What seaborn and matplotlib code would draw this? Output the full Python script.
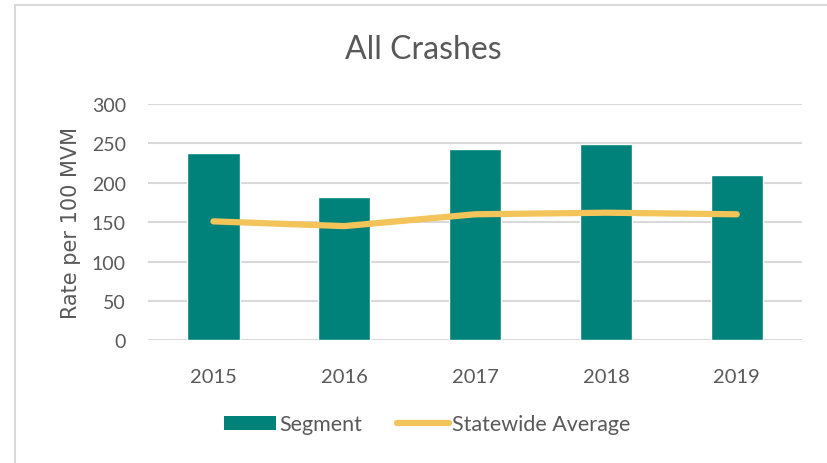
import pandas as pd
import matplotlib.pyplot as plt
import seaborn as sns
from matplotlib.patches import Patch, Rectangle
from matplotlib.lines import Line2D

# values
years = ['2015', '2016', '2017', '2018', '2019']
segment = [238, 182, 243, 249, 210]
statewide = [151, 145, 160, 162, 160]

TEAL = '#00827A'
GOLD = '#F2C45A'
GREY_TEXT = '#595959'
GRID = '#D9D9D9'

df = pd.DataFrame({'year': years, 'segment': segment, 'statewide': statewide})

sns.set_theme(style='white')
plt.rcParams['font.family'] = ['Lato', 'DejaVu Sans']

fig = plt.figure(figsize=(8.27, 4.64), dpi=100)
ax = fig.add_axes([0.179, 0.2644, 0.791, 0.5093])

# chart area border (left + top visible)
fig.patches.append(Rectangle((15 / 827, -0.05), 1.2, 1 - 6 / 464 + 0.05,
                             transform=fig.transFigure, fill=False,
                             edgecolor=GRID, linewidth=1.5))

sns.barplot(data=df, x='year', y='segment', color=TEAL, saturation=1,
            width=0.4, ax=ax, zorder=3)
sns.pointplot(data=df, x='year', y='statewide', color=GOLD, markers='',
              linestyles='-', linewidth=4.5, solid_capstyle='round', ax=ax)
for ln in ax.lines:
    ln.set_zorder(4)

ax.set_ylim(0, 300)
ax.set_xlim(-0.5, 4.5)
ax.set_yticks([0, 50, 100, 150, 200, 250, 300])
ax.yaxis.grid(True, color=GRID, linewidth=1.5, zorder=0)
ax.set_axisbelow(True)
sns.despine(ax=ax, left=True, bottom=True)
ax.tick_params(axis='both', length=0, labelsize=14, labelcolor=GREY_TEXT)
ax.tick_params(axis='x', labelsize=14.5, pad=20)
ax.tick_params(axis='y', pad=16)
ax.set_xlabel('')
ax.set_ylabel('Rate per 100 MVM', fontsize=15, color=GREY_TEXT,
              family='DejaVu Sans', labelpad=8)

fig.text(0.512, 0.892, 'All Crashes', ha='center', va='center',
         fontsize=23, color=GREY_TEXT)

handles = [Patch(facecolor=TEAL, edgecolor='none'),
           Line2D([], [], color=GOLD, linewidth=4.5, solid_capstyle='round')]
fig.legend(handles, ['Segment', 'Statewide Average'], loc='center',
           bbox_to_anchor=(0.517, 0.083), ncol=2, frameon=False,
           fontsize=15.5, labelcolor=GREY_TEXT, handlelength=2.42,
           handleheight=0.65, handletextpad=0.14, columnspacing=1.63)

fig.savefig('out.png', dpi=100)
